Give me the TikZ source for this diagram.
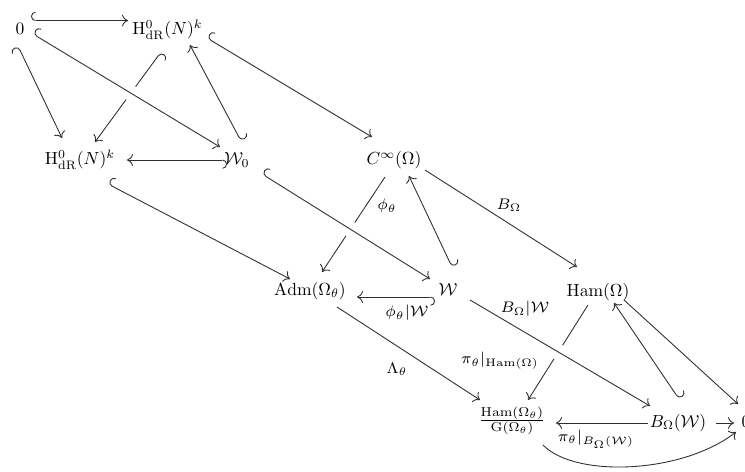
\documentclass[tikz,border=0pt]{standalone}
\usepackage{amsmath}
\usepackage{graphicx}
\usetikzlibrary{arrows.meta}

\newcommand{\arrlabel}[1]{\scalebox{1.25}{$\scriptstyle #1$}}

\tikzset{
  obj/.style={inner sep=0pt, anchor=base, text=black},
  lbl/.style={inner sep=0pt, text=black},
  arr/.style={draw=black!82, line width=0.5pt,
    -{Computer Modern Rightarrow[length=3.4pt,width=6.8pt]}},
  hookL/.style={arr, {Hooks[right,length=2.6pt,width=10pt]}-{Computer Modern Rightarrow[length=3.4pt,width=6.8pt]}},
  hookR/.style={arr, {Hooks[left,length=2.6pt,width=10pt]}-{Computer Modern Rightarrow[length=3.4pt,width=6.8pt]}},
  overpass/.style={preaction={draw=white, -, line width=9pt}}
}

\begin{document}
\begin{tikzpicture}[x=0.5714pt, y=-0.5714pt]
\useasboundingbox (0,0) rectangle (745,472);

% objects of the diagram
\node[obj] (nA) at (20,35)    {$0$};
\node[obj] (nB) at (167.5,35) {$\mathrm{H}^0_{\mathrm{dR}}(N)^k$};
\node[obj] (nC) at (80,165)   {$\mathrm{H}^0_{\mathrm{dR}}(N)^k$};
\node[obj] (nD) at (237,165)  {$\mathcal{W}_0$};
\node[obj] (nE) at (394,165)  {$C^\infty(\Omega)$};
\node[obj] (nF) at (310,295)  {$\mathrm{Adm}(\Omega_\theta)$};
\node[obj] (nG) at (448,295)  {$\mathcal{W}$};
\node[obj] (nH) at (598,296)  {$\mathrm{Ham}(\Omega)$};
\node[obj] (nI) at (512,425)  {\scalebox{1.1}[1.05]{$\frac{\mathrm{Ham}(\Omega_\theta)}{\mathrm{G}(\Omega_\theta)}$}};
\node[obj] (nJ) at (678,427)  {$B_\Omega(\mathcal{W})$};
\node[obj] (nK) at (746,427)  {$0$};

% arrows that are crossed by others come first
\draw[hookL] ([shift={(-6.5,17)}]nB.base) -- ([shift={(15,-23)}]nC.base);
\draw[arr]   ([shift={(-9,12)}]nE.base) -- ([shift={(12,-23)}]nF.base);
\draw[arr]   ([shift={(-10,9)}]nH.base) -- ([shift={(16,-25)}]nI.base);

% top square
\draw[hookL] ([shift={(11,-14.5)}]nA.base) -- ([shift={(-39.5,-14.5)}]nB.base);
\draw[hookR] ([shift={(-2,11)}]nA.base) -- ([shift={(-18,-27)}]nC.base);
\draw[hookL,overpass] ([shift={(13,-1)}]nA.base) -- ([shift={(-17,-18)}]nD.base);
\draw[hookR] ([shift={(4,-24)}]nD.base) -- ([shift={(22.5,10)}]nB.base);
\draw[hookL] ([shift={(-10,-5)}]nD.base) -- ([shift={(47,-5)}]nC.base);

% links to the middle layer
\draw[hookL] ([shift={(39.5,3)}]nB.base) -- ([shift={(-22,-28)}]nE.base);
\draw[hookL,overpass] ([shift={(25,9)}]nD.base) -- ([shift={(-18,-16)}]nG.base);
\draw[hookL] ([shift={(28,19)}]nC.base) -- ([shift={(-20,-16)}]nF.base);
\draw[hookR] ([shift={(4,-28)}]nG.base) -- ([shift={(15,11)}]nE.base);
\draw[arr]   ([shift={(31,5)}]nE.base) -- ([shift={(-21,-29)}]nH.base);
\draw[hookL] ([shift={(-13,2)}]nG.base) -- ([shift={(47,2)}]nF.base);

% bottom layer
\draw[arr,overpass] ([shift={(22,5)}]nG.base) -- ([shift={(-28,-21)}]nJ.base);
\draw[arr]   ([shift={(27,12)}]nF.base) -- ([shift={(-32,-25)}]nI.base);
\draw[hookR] ([shift={(1,-28)}]nJ.base) -- ([shift={(16,7)}]nH.base);
\draw[arr]   ([shift={(26,4)}]nH.base) -- ([shift={(-8,-23)}]nK.base);
\draw[arr]   ([shift={(-30,-4)}]nJ.base) -- ([shift={(44,-2)}]nI.base);
\draw[arr]   ([shift={(38,-4)}]nJ.base) -- ([shift={(-12,-4)}]nK.base);
\draw[arr]   ([shift={(31,20)}]nI.base) .. controls (575,478) and (682,474) .. ([shift={(-10,5)}]nK.base);

% arrow labels
\node[lbl] (l1) at (387,206) {\arrlabel{\phi_\theta}};
\node[lbl] (l2) at (509,205) {\arrlabel{B_\Omega}};
\node[lbl] (l3) at (407,313) {\arrlabel{\phi_\theta|\mathcal{W}}};
\node[lbl] (l4) at (525,309) {\arrlabel{B_\Omega|\mathcal{W}}};
\node[lbl] (l5) at (397,369) {\arrlabel{\Lambda_\theta}};
\node[lbl] (l6) at (500,361) {\arrlabel{\pi_\theta|_{\mathrm{Ham}(\Omega)}}};
\node[lbl] (l7) at (596,439) {\arrlabel{\pi_\theta|_{B_\Omega(\mathcal{W})}}};
\end{tikzpicture}
\end{document}
